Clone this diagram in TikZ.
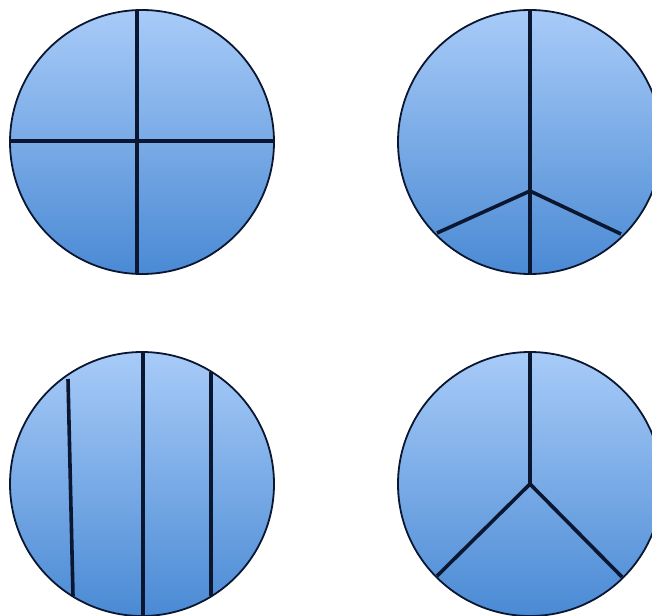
\documentclass[tikz,border=0pt]{standalone}
\usepackage{xcolor}
\usepackage{tikz}
\usetikzlibrary{calc}

\definecolor{pietop}{HTML}{A8CBF8}
\definecolor{piebot}{HTML}{4A8AD4}
\definecolor{cutline}{HTML}{0B1630}

\begin{document}
\begin{tikzpicture}[
    x=1pt, y=-1pt,
    pie/.style={draw=cutline, line width=1.8pt, top color=pietop, bottom color=piebot},
    cut/.style={draw=cutline, line width=3.6pt},
]
\useasboundingbox (0,0) rectangle (652,615);

% ---- centres ----
\coordinate (c1) at (142,142);
\coordinate (c2) at (530,142);
\coordinate (c3) at (142,484);
\coordinate (c4) at (530,484);

% ---- quarters ----
\path[pie] (c1) circle[radius=132];
\draw[cut] ($(c1)+(-5,-132)$) -- ($(c1)+(-5,132)$);
\draw[cut] ($(c1)+(-132,-1)$) -- ($(c1)+(132,-1)$);

% ---- halves and two small pieces ----
\path[pie] (c2) circle[radius=132];
\coordinate (j2) at ($(c2)+(0,49)$);
\draw[cut] ($(c2)+(0,-132)$) -- ($(c2)+(0,132)$);
\draw[cut] (j2) -- ($(c2)+(-93,91)$);
\draw[cut] (j2) -- ($(c2)+(91,92)$);

% ---- strips ----
\path[pie] (c3) circle[radius=132];
\draw[cut] ($(c3)+(1,-132)$) -- ($(c3)+(1,132)$);
\draw[cut] ($(c3)+(-74,-105)$) -- ($(c3)+(-69,112)$);
\draw[cut] ($(c3)+(69,-112)$) -- ($(c3)+(69,112)$);

% ---- thirds ----
\path[pie] (c4) circle[radius=132];
\draw[cut] (c4) -- ($(c4)+(0,-132)$);
\draw[cut] (c4) -- ($(c4)+(-93,92)$);
\draw[cut] (c4) -- ($(c4)+(92,93)$);

\end{tikzpicture}
\end{document}
